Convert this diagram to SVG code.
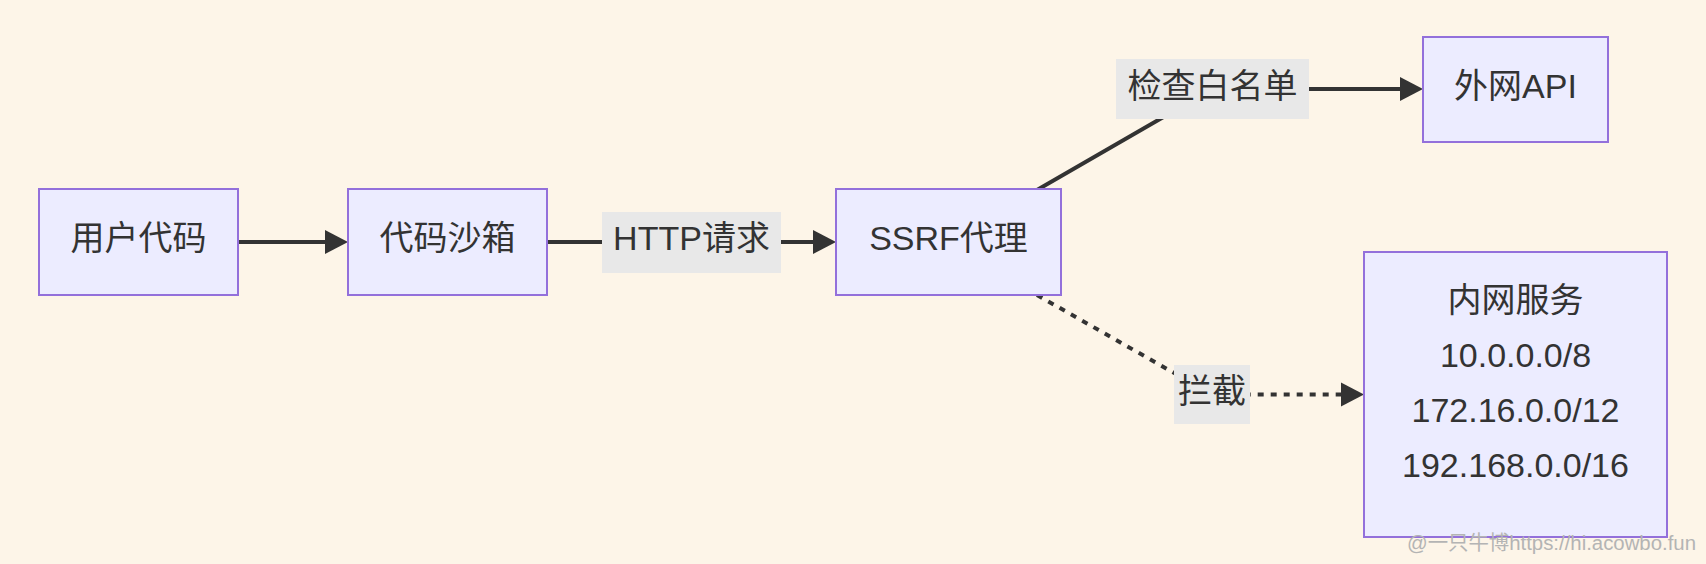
<svg xmlns="http://www.w3.org/2000/svg" width="1706" height="564" viewBox="0 0 1706 564">
<style>
.node rect{fill:#ECECFF;stroke:#9370DB;stroke-width:2}
text{font-family:"Liberation Sans","Noto Sans CJK SC",sans-serif;font-size:34px;fill:#333;text-anchor:middle}
.edge{fill:none;stroke:#333;stroke-width:4}
.dot{stroke-dasharray:6 7}
.lbl rect{fill:#e8e8e8}
.wm{font-size:20px;fill:#b4b4b4;text-anchor:start}
</style>
<defs>
<marker id="arr" markerUnits="userSpaceOnUse" markerWidth="24" markerHeight="26" refX="0" refY="12.5" orient="auto">
<path d="M0,0.5 L23,12.5 L0,24.5 z" fill="#333"/>
</marker>
</defs>
<rect width="1706" height="564" fill="#fdf5e8"/>
<g id="connectors">
<path class="edge" d="M239,242 L325,242" marker-end="url(#arr)"/>
<path class="edge" d="M548,242 L813,242" marker-end="url(#arr)"/>
<path class="edge" d="M1037,190 L1212,89 L1400,89" marker-end="url(#arr)"/>
<path class="edge dot" d="M1037,295 L1212,394.5 L1341,394.5" marker-end="url(#arr)"/>
<g class="lbl" id="label-http"><rect x="602" y="212" width="179" height="61"/><text x="691.5" y="250">HTTP请求</text></g>
<g class="lbl" id="label-whitelist"><rect x="1116" y="59" width="193" height="60"/><text x="1212.5" y="98">检查白名单</text></g>
<g class="lbl" id="label-block"><rect x="1174" y="365" width="76" height="59"/><text x="1212" y="403">拦截</text></g>
</g>
<g class="node" id="user-code"><rect x="39" y="189" width="199" height="106"/><text x="138.5" y="250">用户代码</text></g>
<g class="node" id="sandbox"><rect x="348" y="189" width="199" height="106"/><text x="447.5" y="250">代码沙箱</text></g>
<g class="node" id="ssrf-proxy"><rect x="836" y="189" width="225" height="106"/><text x="948.5" y="250">SSRF代理</text></g>
<g class="node" id="external-api"><rect x="1423" y="37" width="185" height="105"/><text x="1515.5" y="98">外网API</text></g>
<g class="node" id="internal"><rect x="1364" y="252" width="303" height="285"/>
<text x="1515.5" y="312">内网服务</text>
<text x="1515.5" y="367">10.0.0.0/8</text>
<text x="1515.5" y="422">172.16.0.0/12</text>
<text x="1515.5" y="477">192.168.0.0/16</text>
</g>
<text class="wm" x="1407" y="550" textLength="289" lengthAdjust="spacingAndGlyphs">@一只牛博https://hi.acowbo.fun</text>
</svg>
